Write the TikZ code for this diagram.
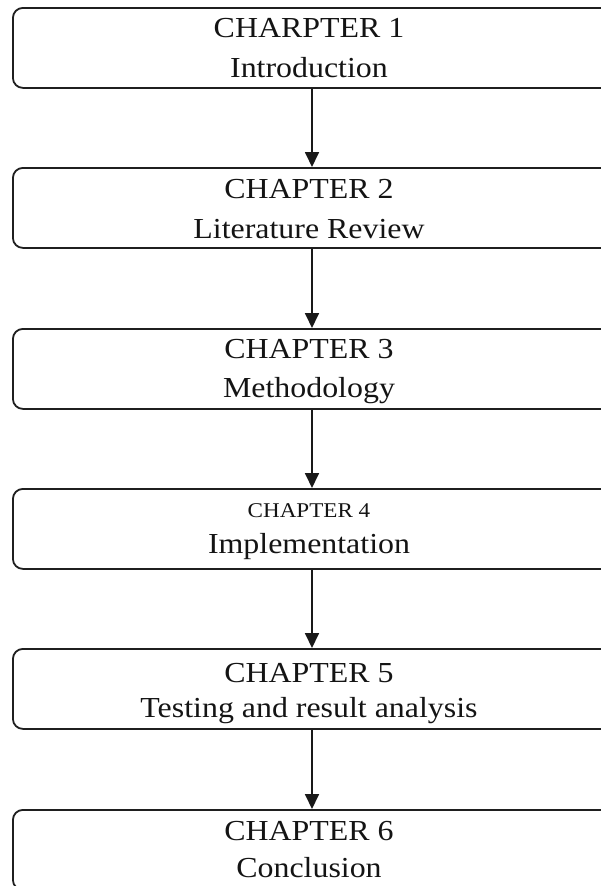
\documentclass[tikz,border=0pt]{standalone}
\usepackage{fontspec}
\setmainfont{Liberation Serif}[FakeStretch=1.1]
\usetikzlibrary{arrows.meta}
\begin{document}
\begin{tikzpicture}[x=1pt,y=-1pt,
  chapbox/.style={draw=black!88, line width=1.8pt, rounded corners=10pt,
    minimum width=620pt, minimum height=80pt, anchor=north west, inner sep=0pt},
  headtxt/.style={anchor=base, inner sep=0pt, text=black!92,
    font=\fontsize{29}{35}\selectfont},
  smallhead/.style={headtxt, font=\fontsize{21}{25}\selectfont},
  subtxt/.style={anchor=base, inner sep=0pt, text=black!92,
    font=\fontsize{29}{35}\selectfont},
  flow/.style={draw=black!90, line width=1.8pt,
    -{Triangle[width=14pt,length=15pt]}}]
\useasboundingbox (0,0) rectangle (601,886);
\clip (0,0) rectangle (601,886);
\fill[white] (0,0) rectangle (601,886);

\node[chapbox] (b1) at (12,7) {};
\node[chapbox] (b2) at (12,167) {};
\node[chapbox] (b3) at (12,328) {};
\node[chapbox] (b4) at (12,488) {};
\node[chapbox] (b5) at (12,648) {};
\node[chapbox] (b6) at (12,809) {};

\coordinate (ax) at (312,0);

\node[headtxt] (h1) at (309,37) {CHARPTER 1};
\node[subtxt] (s1) at (309,77) {Introduction};
\node[headtxt] (h2) at (309,198) {CHAPTER 2};
\node[subtxt] (s2) at (309,238) {Literature Review};
\node[headtxt] (h3) at (309,358) {CHAPTER 3};
\node[subtxt] (s3) at (309,397) {Methodology};
\node[smallhead] (h4) at (309,517) {CHAPTER 4};
\node[subtxt] (s4) at (309,553) {Implementation};
\node[headtxt] (h5) at (309,682) {CHAPTER 5};
\node[subtxt] (s5) at (309,717) {Testing and result analysis};
\node[headtxt] (h6) at (309,840) {CHAPTER 6};
\node[subtxt] (s6) at (309,877) {Conclusion};

\draw[flow] (ax |- b1.south) -- (ax |- b2.north);
\draw[flow] (ax |- b2.south) -- (ax |- b3.north);
\draw[flow] (ax |- b3.south) -- (ax |- b4.north);
\draw[flow] (ax |- b4.south) -- (ax |- b5.north);
\draw[flow] (ax |- b5.south) -- (ax |- b6.north);
\end{tikzpicture}
\end{document}
